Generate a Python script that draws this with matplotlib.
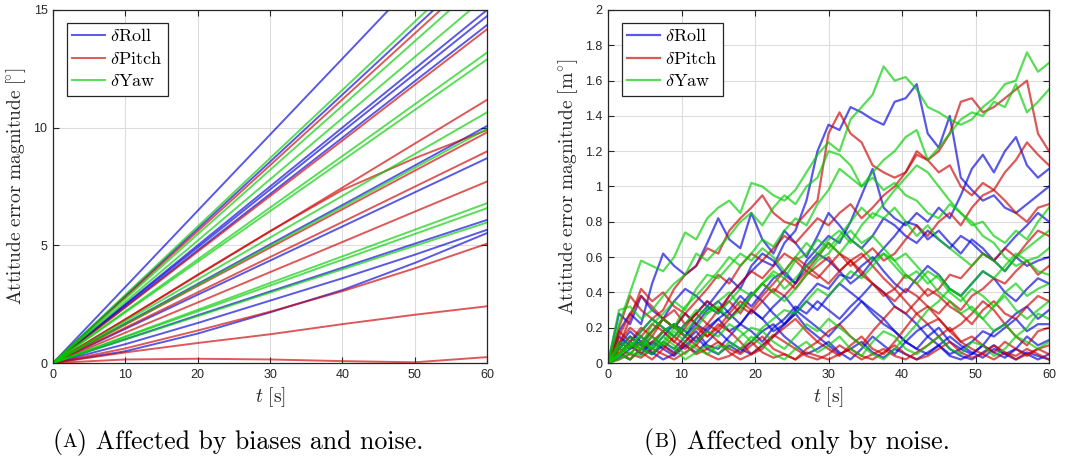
import numpy as np
import matplotlib
matplotlib.use("Agg")
import matplotlib.pyplot as plt
from matplotlib.ticker import FuncFormatter

plt.rcParams['mathtext.fontset'] = 'cm'
plt.rcParams['font.family'] = ['Liberation Sans', 'DejaVu Sans']

# ---- panel A: biases + noise, sampled every 10 s ----
t_a = [0, 10, 20, 30, 40, 50, 60]

roll_a = [
    [0, 3.23, 6.47, 9.70, 12.93, 16.17, 19.40],
    [0, 2.85, 5.70, 8.55, 11.40, 14.25, 17.10],
    [0, 2.50, 5.00, 7.50, 10.00, 12.50, 15.00],
    [0, 2.46, 4.91, 7.37, 9.83, 12.28, 14.74],
    [0, 2.39, 4.79, 7.18, 9.57, 11.97, 14.36],
    [0, 1.68, 3.36, 5.04, 6.71, 8.39, 10.07],
    [0, 1.45, 2.90, 4.35, 5.80, 7.25, 8.70],
    [0, 1.01, 2.03, 3.04, 4.05, 5.07, 6.08],
    [0, 0.80, 1.70, 2.65, 3.60, 4.60, 5.66],
    [0, 0.50, 1.25, 2.15, 3.10, 4.25, 5.52],
]
pitch_a = [
    [0, 2.80, 5.60, 8.40, 11.20, 14.00, 16.80],
    [0, 2.36, 4.73, 7.09, 9.45, 11.82, 14.18],
    [0, 1.86, 3.73, 5.59, 7.45, 9.32, 11.18],
    [0, 1.85, 3.75, 5.60, 7.35, 8.70, 9.90],
    [0, 1.63, 3.27, 4.90, 6.53, 8.17, 9.80],
    [0, 1.50, 3.00, 4.50, 5.99, 7.49, 8.99],
    [0, 1.29, 2.57, 3.86, 5.14, 6.43, 7.71],
    [0, 0.62, 1.38, 2.18, 3.05, 4.02, 5.07],
    [0, 0.45, 0.85, 1.22, 1.65, 2.05, 2.41],
    [0, 0.15, 0.18, 0.15, 0.08, 0.03, 0.25],
]
yaw_a = [
    [0, 2.90, 5.80, 8.70, 11.60, 14.50, 17.40],
    [0, 2.73, 5.47, 8.20, 10.93, 13.67, 16.40],
    [0, 2.60, 5.20, 7.80, 10.40, 13.00, 15.60],
    [0, 2.20, 4.40, 6.60, 8.79, 10.99, 13.19],
    [0, 2.15, 4.30, 6.45, 8.60, 10.75, 12.90],
    [0, 1.78, 3.55, 5.33, 7.10, 8.88, 10.65],
    [0, 1.66, 3.32, 4.98, 6.63, 8.29, 9.95],
    [0, 1.13, 2.26, 3.40, 4.53, 5.66, 6.79],
    [0, 1.10, 2.19, 3.29, 4.39, 5.48, 6.58],
    [0, 1.00, 1.99, 2.99, 3.98, 4.98, 5.97],
]

# ---- panel B: noise only, sampled every 1.5 s ----
t_b = [0, 1.5, 3, 4.5, 6, 7.5, 9, 10.5, 12, 13.5,
       15, 16.5, 18, 19.5, 21, 22.5, 24, 25.5, 27, 28.5,
       30, 31.5, 33, 34.5, 36, 37.5, 39, 40.5, 42, 43.5,
       45, 46.5, 48, 49.5, 51, 52.5, 54, 55.5, 57, 58.5, 60]

roll_b = [
    [0.00, 0.12, 0.08, 0.15, 0.10, 0.18, 0.22, 0.15, 0.25, 0.32,
     0.28, 0.38, 0.45, 0.52, 0.58, 0.55, 0.68, 0.75, 0.92, 1.20,
     1.35, 1.32, 1.45, 1.42, 1.38, 1.35, 1.48, 1.50, 1.58, 1.30,
     1.22, 1.40, 1.05, 0.98, 0.92, 0.95, 0.88, 0.85, 0.90, 0.95, 1.00],
    [0.00, 0.18, 0.28, 0.22, 0.45, 0.62, 0.55, 0.50, 0.55, 0.68,
     0.82, 0.70, 0.65, 0.85, 0.70, 0.62, 0.75, 0.68, 0.60, 0.72,
     0.85, 0.78, 0.70, 0.65, 0.72, 0.82, 0.78, 0.72, 0.68, 0.75,
     0.70, 0.65, 0.72, 0.68, 0.62, 0.58, 0.65, 0.72, 0.78, 0.85, 0.80],
    [0.00, 0.08, 0.15, 0.10, 0.05, 0.12, 0.08, 0.15, 0.22, 0.18,
     0.25, 0.30, 0.38, 0.32, 0.40, 0.48, 0.52, 0.45, 0.58, 0.65,
     0.72, 0.68, 0.80, 0.95, 1.10, 0.88, 0.82, 0.78, 0.85, 0.80,
     0.88, 0.82, 0.95, 1.10, 1.18, 1.08, 1.20, 1.28, 1.12, 1.05, 1.10],
    [0.00, 0.28, 0.22, 0.38, 0.30, 0.25, 0.35, 0.42, 0.38, 0.32,
     0.40, 0.48, 0.42, 0.55, 0.62, 0.58, 0.50, 0.45, 0.55, 0.62,
     0.58, 0.52, 0.45, 0.50, 0.58, 0.65, 0.72, 0.80, 0.78, 0.70,
     0.75, 0.68, 0.62, 0.70, 0.65, 0.58, 0.52, 0.60, 0.55, 0.58, 0.60],
    [0.00, 0.05, 0.12, 0.18, 0.25, 0.20, 0.15, 0.22, 0.28, 0.35,
     0.30, 0.25, 0.32, 0.40, 0.35, 0.28, 0.22, 0.30, 0.38, 0.45,
     0.42, 0.50, 0.48, 0.55, 0.60, 0.52, 0.45, 0.40, 0.48, 0.55,
     0.50, 0.42, 0.38, 0.45, 0.52, 0.48, 0.40, 0.35, 0.42, 0.48, 0.45],
    [0.00, 0.10, 0.18, 0.12, 0.08, 0.15, 0.22, 0.18, 0.12, 0.20,
     0.25, 0.18, 0.22, 0.30, 0.25, 0.32, 0.38, 0.30, 0.25, 0.20,
     0.15, 0.22, 0.28, 0.35, 0.30, 0.25, 0.18, 0.12, 0.08, 0.15,
     0.20, 0.12, 0.08, 0.05, 0.10, 0.18, 0.22, 0.28, 0.32, 0.25, 0.30],
    [0.00, 0.05, 0.02, 0.08, 0.05, 0.10, 0.06, 0.12, 0.18, 0.10,
     0.08, 0.15, 0.22, 0.18, 0.12, 0.20, 0.25, 0.32, 0.28, 0.35,
     0.30, 0.25, 0.32, 0.38, 0.45, 0.40, 0.32, 0.28, 0.22, 0.15,
     0.10, 0.05, 0.08, 0.12, 0.18, 0.15, 0.20, 0.25, 0.18, 0.22, 0.22],
    [0.00, 0.15, 0.10, 0.05, 0.12, 0.08, 0.04, 0.10, 0.15, 0.08,
     0.05, 0.10, 0.06, 0.12, 0.18, 0.22, 0.15, 0.10, 0.05, 0.08,
     0.12, 0.06, 0.02, 0.08, 0.15, 0.10, 0.05, 0.12, 0.18, 0.22,
     0.15, 0.08, 0.04, 0.02, 0.06, 0.10, 0.05, 0.08, 0.15, 0.10, 0.13],
    [0.00, 0.03, 0.08, 0.12, 0.06, 0.02, 0.05, 0.10, 0.06, 0.12,
     0.18, 0.12, 0.08, 0.05, 0.10, 0.15, 0.22, 0.28, 0.20, 0.15,
     0.10, 0.05, 0.08, 0.12, 0.06, 0.03, 0.08, 0.05, 0.02, 0.06,
     0.10, 0.04, 0.02, 0.05, 0.10, 0.06, 0.03, 0.08, 0.05, 0.02, 0.05],
    [0.00, 0.08, 0.15, 0.10, 0.18, 0.25, 0.20, 0.28, 0.22, 0.30,
     0.35, 0.28, 0.22, 0.30, 0.25, 0.18, 0.22, 0.28, 0.35, 0.30,
     0.38, 0.45, 0.40, 0.35, 0.28, 0.22, 0.18, 0.12, 0.08, 0.05,
     0.10, 0.15, 0.10, 0.06, 0.03, 0.08, 0.05, 0.02, 0.06, 0.04, 0.02],
]
pitch_b = [
    [0.00, 0.20, 0.38, 0.30, 0.25, 0.30, 0.42, 0.50, 0.55, 0.65,
     0.62, 0.75, 0.82, 0.88, 0.95, 0.85, 0.80, 0.78, 0.85, 0.92,
     1.30, 1.42, 1.30, 1.25, 1.12, 1.08, 1.05, 1.08, 1.18, 1.15,
     1.20, 1.30, 1.48, 1.50, 1.42, 1.45, 1.50, 1.55, 1.60, 1.30, 1.20],
    [0.00, 0.10, 0.25, 0.42, 0.35, 0.40, 0.32, 0.28, 0.35, 0.42,
     0.50, 0.45, 0.55, 0.62, 0.58, 0.65, 0.72, 0.68, 0.75, 0.82,
     0.78, 0.85, 0.90, 0.82, 0.88, 0.95, 1.00, 1.08, 1.20, 1.15,
     1.08, 1.12, 1.00, 0.95, 1.02, 0.98, 1.08, 1.15, 1.25, 1.18, 1.12],
    [0.00, 0.05, 0.12, 0.20, 0.15, 0.25, 0.30, 0.22, 0.28, 0.35,
     0.30, 0.38, 0.45, 0.52, 0.48, 0.55, 0.62, 0.58, 0.52, 0.60,
     0.68, 0.62, 0.55, 0.60, 0.65, 0.58, 0.62, 0.70, 0.78, 0.72,
     0.80, 0.85, 0.78, 0.88, 0.95, 0.98, 0.92, 0.85, 0.80, 0.88, 0.90],
    [0.00, 0.15, 0.28, 0.38, 0.32, 0.25, 0.20, 0.28, 0.22, 0.15,
     0.20, 0.28, 0.35, 0.30, 0.38, 0.45, 0.52, 0.60, 0.55, 0.50,
     0.45, 0.52, 0.58, 0.62, 0.55, 0.48, 0.42, 0.50, 0.45, 0.38,
     0.42, 0.50, 0.48, 0.55, 0.62, 0.58, 0.65, 0.60, 0.68, 0.75, 0.72],
    [0.00, 0.12, 0.20, 0.15, 0.22, 0.18, 0.12, 0.08, 0.15, 0.22,
     0.18, 0.25, 0.32, 0.28, 0.35, 0.42, 0.38, 0.45, 0.52, 0.48,
     0.55, 0.62, 0.58, 0.52, 0.45, 0.40, 0.35, 0.42, 0.38, 0.32,
     0.28, 0.35, 0.30, 0.38, 0.42, 0.48, 0.45, 0.52, 0.58, 0.50, 0.55],
    [0.00, 0.08, 0.05, 0.12, 0.18, 0.25, 0.20, 0.15, 0.10, 0.18,
     0.12, 0.08, 0.05, 0.10, 0.15, 0.08, 0.05, 0.02, 0.08, 0.12,
     0.18, 0.22, 0.15, 0.10, 0.18, 0.25, 0.32, 0.28, 0.35, 0.42,
     0.38, 0.32, 0.28, 0.22, 0.30, 0.35, 0.28, 0.25, 0.32, 0.38, 0.35],
    [0.00, 0.18, 0.12, 0.08, 0.15, 0.10, 0.05, 0.12, 0.20, 0.15,
     0.22, 0.18, 0.12, 0.05, 0.08, 0.15, 0.20, 0.25, 0.18, 0.12,
     0.08, 0.04, 0.10, 0.15, 0.08, 0.05, 0.12, 0.20, 0.28, 0.32,
     0.25, 0.18, 0.22, 0.28, 0.35, 0.30, 0.22, 0.15, 0.10, 0.18, 0.20],
    [0.00, 0.05, 0.10, 0.06, 0.02, 0.08, 0.15, 0.10, 0.05, 0.08,
     0.12, 0.06, 0.02, 0.05, 0.10, 0.16, 0.12, 0.08, 0.04, 0.02,
     0.05, 0.10, 0.06, 0.02, 0.05, 0.08, 0.04, 0.02, 0.06, 0.10,
     0.15, 0.20, 0.12, 0.08, 0.05, 0.10, 0.06, 0.02, 0.05, 0.08, 0.10],
    [0.00, 0.06, 0.02, 0.08, 0.12, 0.18, 0.12, 0.20, 0.28, 0.22,
     0.30, 0.35, 0.28, 0.38, 0.45, 0.40, 0.48, 0.42, 0.50, 0.55,
     0.60, 0.52, 0.58, 0.50, 0.45, 0.38, 0.42, 0.35, 0.28, 0.22,
     0.25, 0.18, 0.12, 0.15, 0.10, 0.06, 0.12, 0.08, 0.04, 0.08, 0.05],
    [0.00, 0.02, 0.05, 0.03, 0.08, 0.05, 0.02, 0.06, 0.10, 0.05,
     0.02, 0.04, 0.08, 0.12, 0.06, 0.03, 0.05, 0.02, 0.06, 0.04,
     0.02, 0.05, 0.08, 0.04, 0.02, 0.06, 0.10, 0.05, 0.02, 0.04,
     0.08, 0.12, 0.06, 0.03, 0.05, 0.02, 0.06, 0.04, 0.08, 0.05, 0.02],
]
yaw_b = [
    [0.00, 0.22, 0.40, 0.58, 0.55, 0.52, 0.60, 0.74, 0.70, 0.82,
     0.88, 0.92, 0.85, 1.02, 1.00, 0.95, 0.92, 0.98, 1.08, 1.18,
     1.25, 1.20, 1.38, 1.45, 1.52, 1.68, 1.60, 1.62, 1.55, 1.45,
     1.42, 1.38, 1.35, 1.38, 1.45, 1.50, 1.58, 1.60, 1.76, 1.65, 1.70],
    [0.00, 0.05, 0.12, 0.08, 0.18, 0.25, 0.20, 0.32, 0.38, 0.45,
     0.52, 0.60, 0.55, 0.62, 0.70, 0.66, 0.75, 0.82, 0.78, 0.90,
     0.98, 1.10, 1.05, 1.00, 1.08, 1.15, 1.20, 1.28, 1.32, 1.15,
     1.22, 1.30, 1.38, 1.42, 1.40, 1.48, 1.45, 1.58, 1.42, 1.48, 1.55],
    [0.00, 0.30, 0.32, 0.25, 0.30, 0.38, 0.45, 0.50, 0.62, 0.58,
     0.65, 0.72, 0.80, 0.85, 0.78, 0.88, 0.95, 0.90, 1.00, 1.05,
     1.20, 1.18, 1.12, 1.00, 1.05, 0.98, 1.02, 0.95, 0.92, 0.85,
     0.82, 0.90, 0.85, 0.78, 0.80, 0.72, 0.68, 0.75, 0.70, 0.80, 0.88],
    [0.00, 0.08, 0.15, 0.10, 0.22, 0.28, 0.35, 0.30, 0.42, 0.50,
     0.48, 0.55, 0.62, 0.58, 0.65, 0.60, 0.52, 0.60, 0.68, 0.62,
     0.70, 0.75, 0.68, 0.78, 0.85, 0.82, 0.88, 0.80, 0.72, 0.78,
     0.70, 0.65, 0.60, 0.55, 0.62, 0.58, 0.52, 0.60, 0.65, 0.70, 0.75],
    [0.00, 0.12, 0.08, 0.18, 0.25, 0.20, 0.15, 0.22, 0.30, 0.28,
     0.35, 0.40, 0.32, 0.38, 0.45, 0.50, 0.42, 0.48, 0.55, 0.60,
     0.68, 0.62, 0.70, 0.65, 0.58, 0.62, 0.55, 0.48, 0.52, 0.45,
     0.50, 0.42, 0.38, 0.45, 0.52, 0.48, 0.55, 0.62, 0.58, 0.60, 0.65],
    [0.00, 0.05, 0.10, 0.15, 0.08, 0.12, 0.20, 0.18, 0.25, 0.32,
     0.28, 0.35, 0.42, 0.38, 0.45, 0.52, 0.48, 0.58, 0.62, 0.70,
     0.65, 0.72, 0.80, 0.88, 0.82, 0.90, 0.98, 1.05, 1.12, 1.08,
     1.00, 0.92, 0.85, 0.80, 0.72, 0.68, 0.60, 0.55, 0.58, 0.52, 0.50],
    [0.00, 0.10, 0.05, 0.12, 0.08, 0.15, 0.10, 0.05, 0.12, 0.18,
     0.15, 0.22, 0.18, 0.12, 0.20, 0.25, 0.30, 0.28, 0.35, 0.42,
     0.38, 0.45, 0.52, 0.48, 0.55, 0.62, 0.58, 0.50, 0.45, 0.52,
     0.48, 0.40, 0.35, 0.42, 0.38, 0.32, 0.40, 0.45, 0.38, 0.42, 0.45],
    [0.00, 0.05, 0.02, 0.08, 0.15, 0.10, 0.18, 0.12, 0.08, 0.05,
     0.10, 0.08, 0.15, 0.20, 0.18, 0.12, 0.08, 0.15, 0.22, 0.18,
     0.25, 0.20, 0.15, 0.10, 0.05, 0.02, 0.08, 0.15, 0.22, 0.30,
     0.35, 0.42, 0.38, 0.30, 0.25, 0.32, 0.38, 0.30, 0.25, 0.30, 0.35],
    [0.00, 0.02, 0.06, 0.04, 0.10, 0.18, 0.22, 0.15, 0.20, 0.28,
     0.32, 0.25, 0.30, 0.38, 0.45, 0.40, 0.35, 0.42, 0.50, 0.58,
     0.62, 0.70, 0.75, 0.68, 0.72, 0.65, 0.58, 0.62, 0.55, 0.48,
     0.40, 0.35, 0.28, 0.32, 0.25, 0.18, 0.22, 0.15, 0.20, 0.28, 0.25],
    [0.00, 0.04, 0.10, 0.08, 0.05, 0.12, 0.08, 0.02, 0.06, 0.10,
     0.05, 0.12, 0.08, 0.15, 0.10, 0.05, 0.02, 0.08, 0.12, 0.06,
     0.10, 0.15, 0.08, 0.04, 0.12, 0.18, 0.15, 0.08, 0.05, 0.10,
     0.15, 0.08, 0.05, 0.12, 0.10, 0.04, 0.08, 0.15, 0.12, 0.08, 0.12],
]

c_roll = (0.0, 0.0, 0.85)
c_pitch = (0.8, 0.0, 0.0)
c_yaw = (0.0, 0.8, 0.0)
ALPHA = 0.65
ink = '#262626'

fig = plt.figure(figsize=(10.71, 4.61), dpi=100)
ax1 = fig.add_axes([53/1071, 1-363/461, 434/1071, 353/461])
ax2 = fig.add_axes([608/1071, 1-363/461, 441/1071, 353/461])


def draw_group(ax, t, groups, lw):
    handles = []
    for series, col, name in groups:
        for k, y in enumerate(series):
            ln, = ax.plot(t, y, color=col, alpha=ALPHA, lw=lw)
            if k == 0:
                handles.append((ln, name))
    return handles


def style(ax, ymax, ystep, ylab):
    ax.set_xlim(0, 60)
    ax.set_ylim(0, ymax)
    ax.set_xticks(np.arange(0, 61, 10))
    ax.set_yticks(np.arange(0, ymax + 1e-9, ystep))
    ax.yaxis.set_major_formatter(FuncFormatter(lambda v, p: '%g' % round(v, 2)))
    ax.grid(True, color='#dcdcdc', lw=0.8)
    ax.set_axisbelow(True)
    ax.tick_params(direction='in', length=4, width=0.8, top=True, right=True,
                   labelsize=9, colors=ink, pad=4)
    for s in ax.spines.values():
        s.set_color(ink)
        s.set_linewidth(0.9)
    ax.set_xlabel(r'$t\ \mathrm{[s]}$', fontsize=14, color=ink, labelpad=3)
    ax.set_ylabel(ylab, fontsize=14, color=ink, labelpad=4)


for ax, t, r, p, y, lw in [(ax1, t_a, roll_a, pitch_a, yaw_a, 1.4),
                           (ax2, t_b, roll_b, pitch_b, yaw_b, 1.6)]:
    h = draw_group(ax, t, [(r, c_roll, r'$\delta\mathrm{Roll}$'),
                           (p, c_pitch, r'$\delta\mathrm{Pitch}$'),
                           (y, c_yaw, r'$\delta\mathrm{Yaw}$')], lw)
    leg = ax.legend([a for a, _ in h], [b for _, b in h], loc='upper left',
                    fontsize=13, frameon=True, fancybox=False, framealpha=1,
                    edgecolor=ink, borderpad=0.3, labelspacing=0.3,
                    handlelength=1.8, handletextpad=0.3, borderaxespad=0,
                    bbox_to_anchor=(14/ax.bbox.width, 1 - 13/353))
    leg.get_frame().set_linewidth(0.9)

style(ax1, 15, 5, r'$\mathrm{Attitude\ error\ magnitude\ [\!^{\circ}]}$')
style(ax2, 2, 0.2, r'$\mathrm{Attitude\ error\ magnitude\ [m^{\circ}]}$')


# captions with a small-caps letter
def caption(xc, yc, letter, rest, size):
    kw = dict(family='cmr10', color='black', va='center', ha='left')
    parts = [fig.text(0, yc, '(', fontsize=size, **kw),
             fig.text(0, yc, letter, fontsize=size * 0.75, **kw),
             fig.text(0, yc, ') ' + rest, fontsize=size, **kw)]
    r = fig.canvas.get_renderer()
    widths = [p.get_window_extent(r).width for p in parts]
    x = xc * 1071 - sum(widths) / 2
    for p, w in zip(parts, widths):
        p.set_x(x / 1071)
        x += w


caption(238/1071, 1-442/461, 'A', 'Affected by biases and noise.', 18.6)
caption(797/1071, 1-442/461, 'B', 'Affected only by noise.', 18.9)

fig.savefig('out.png', dpi=100)
